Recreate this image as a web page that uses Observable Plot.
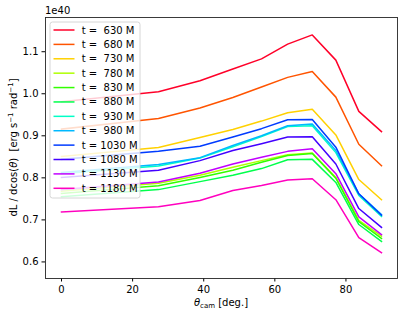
<!DOCTYPE html>
<html>
<head>
<meta charset="utf-8">
<script src="https://cdn.jsdelivr.net/npm/d3@7"></script>
<script src="https://cdn.jsdelivr.net/npm/@observablehq/plot@0.6"></script>
<style>
  html, body { margin: 0; padding: 0; background: #fff; overflow: hidden; }
  svg { display: block; }
</style>
</head>
<body>
<div id="chart"></div>
<script>
// camera angles (deg)
const thetas = [0, 27.27, 38.94, 48.19, 56.25, 63.61, 70.53, 77.16, 83.62, 90];
// times (M)
const times = [630, 680, 730, 780, 830, 880, 930, 980, 1030, 1080, 1130, 1180];
const colors = ["#ff0029", "#ff5400", "#ffd100", "#afff00", "#32ff00", "#00ff4b",
                "#00ffc7", "#00b9ff", "#003bff", "#4300ff", "#c100ff", "#ff00bf"];
// dL/dcos(theta) in units of 1e40
const s630  = [0.981, 1.005, 1.031, 1.059, 1.083, 1.118, 1.140, 1.080, 0.958, 0.910];
const s680  = [0.916, 0.941, 0.966, 0.991, 1.016, 1.039, 1.053, 0.992, 0.880, 0.829];
const s730  = [0.851, 0.872, 0.896, 0.915, 0.935, 0.955, 0.963, 0.902, 0.796, 0.748];
const s780  = [0.768, 0.787, 0.806, 0.825, 0.841, 0.855, 0.859, 0.801, 0.699, 0.661];
const s830  = [0.763, 0.781, 0.801, 0.818, 0.837, 0.853, 0.858, 0.799, 0.696, 0.656];
const s880  = [0.755, 0.772, 0.791, 0.806, 0.822, 0.843, 0.844, 0.789, 0.689, 0.649];
const s930  = [0.810, 0.828, 0.847, 0.874, 0.898, 0.922, 0.924, 0.860, 0.758, 0.708];
const s980  = [0.813, 0.832, 0.848, 0.877, 0.900, 0.924, 0.928, 0.865, 0.762, 0.713];
const s1030 = [0.844, 0.863, 0.875, 0.897, 0.917, 0.938, 0.939, 0.873, 0.762, 0.711];
const s1080 = [0.801, 0.818, 0.841, 0.865, 0.881, 0.897, 0.898, 0.833, 0.727, 0.682];
const s1130 = [0.772, 0.790, 0.811, 0.833, 0.849, 0.863, 0.869, 0.810, 0.707, 0.665];
const s1180 = [0.719, 0.731, 0.746, 0.770, 0.782, 0.795, 0.798, 0.748, 0.658, 0.622];
const xTicks = [0, 20, 40, 60, 80];
const yTicks = [0.6, 0.7, 0.8, 0.9, 1.0, 1.1];
const labels = times.map(t => "t = " + String(t).padStart(4, " ") + " M");

const series = [s630, s680, s730, s780, s830, s880, s930, s980, s1030, s1080, s1130, s1180];
const rows = times.flatMap((t, i) => thetas.map((th, j) => ({t: labels[i], theta: th, value: series[i][j]})));

const W = 407, H = 317;
const mL = 45, mR = 10, mT = 17, mB = 39;

const svgEl = Plot.plot({
  width: W, height: H,
  marginLeft: mL, marginRight: mR, marginTop: mT, marginBottom: mB,
  style: {fontFamily: "DejaVu Sans", fontSize: "10px", color: "#000", background: "#fff"},
  x: {domain: [-4.5, 94.5], ticks: xTicks, tickSize: 3.5, tickPadding: 3.5, label: null},
  y: {domain: [0.5606, 1.1814], ticks: yTicks, tickFormat: d3.format(".1f"), tickSize: 3.5, tickPadding: 3.5, label: null},
  color: {domain: labels, range: colors},
  marks: [
    Plot.line(rows, {x: "theta", y: "value", z: "t", stroke: "t", strokeWidth: 1.5, strokeLinejoin: "round", strokeLinecap: "square"}),
    Plot.frame({stroke: "#262626", strokeWidth: 0.9})
  ]
});
document.getElementById("chart").appendChild(svgEl);

const svg = d3.select(svgEl);
svg.selectAll("text").attr("fill", "#000");

// legend
const lg = svg.append("g").attr("font-family", "DejaVu Sans").attr("font-size", 10)
  .attr("text-anchor", "start");
lg.append("rect").attr("x", 50).attr("y", 22).attr("width", 90).attr("height", 176)
  .attr("rx", 2.5).style("fill", "#ffffff").style("fill-opacity", 0.8)
  .style("stroke", "#cccccc").style("stroke-width", 0.8);
labels.forEach((lab, i) => {
  const yy = 30 + 14.39 * i;
  lg.append("line").attr("x1", 53.5).attr("x2", 74.5).attr("y1", yy).attr("y2", yy)
    .style("stroke", colors[i]).style("stroke-width", 1.5);
  lg.append("text").attr("x", 81.7).attr("y", yy).attr("dy", "0.35em")
    .attr("text-anchor", "start")
    .style("white-space", "pre").attr("fill", "#000").text(lab);
});

// offset text
svg.append("text").attr("x", 45).attr("y", 14).attr("font-family", "DejaVu Sans")
  .attr("text-anchor", "start")
  .attr("font-size", 10).attr("fill", "#000").text("1e40");

// y label
const yl = svg.append("text")
  .attr("transform", "translate(16.5,147.5) rotate(-90)")
  .attr("text-anchor", "middle").attr("font-family", "DejaVu Sans").attr("font-size", 10)
  .attr("fill", "#000").style("white-space", "pre");
yl.append("tspan").text("dL / dcos(");
yl.append("tspan").attr("font-style", "italic").text("θ");
yl.append("tspan").text(")  [erg s");
yl.append("tspan").attr("dy", -4).attr("font-size", 7).text("−1");
yl.append("tspan").attr("dy", 4).text(" rad");
yl.append("tspan").attr("dy", -4).attr("font-size", 7).text("−1");
yl.append("tspan").attr("dy", 4).text("]");

// x label
const xl = svg.append("text")
  .attr("x", (mL + W - mR) / 2).attr("y", 306)
  .attr("text-anchor", "middle").attr("font-family", "DejaVu Sans").attr("font-size", 10)
  .attr("fill", "#000").style("white-space", "pre");
xl.append("tspan").attr("font-style", "italic").text("θ");
xl.append("tspan").attr("dy", 2).attr("font-size", 7).text("cam");
xl.append("tspan").attr("dy", -2).text(" [deg.]");
</script>
</body>
</html>
